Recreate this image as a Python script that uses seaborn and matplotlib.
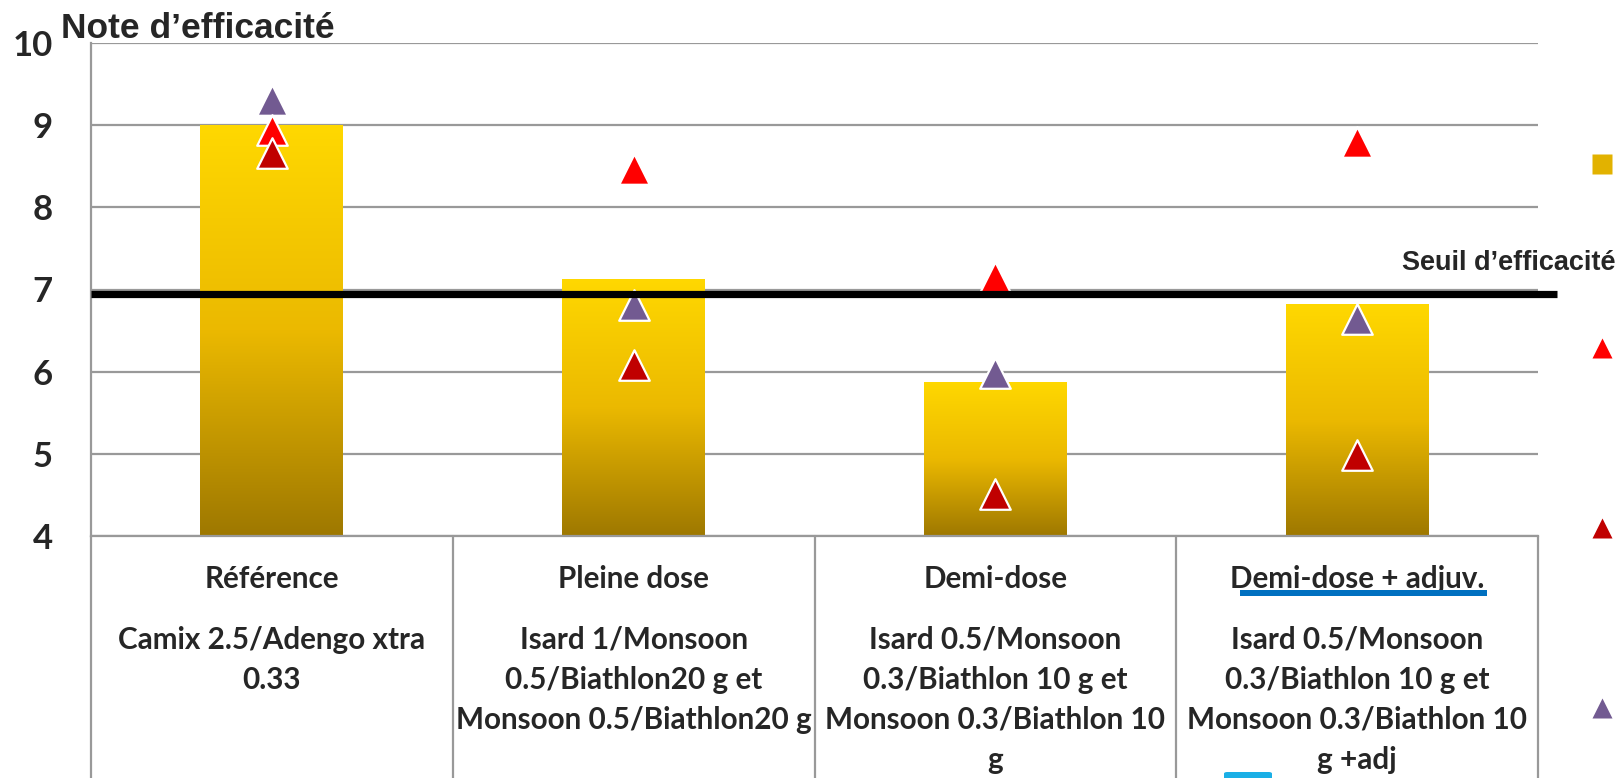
import numpy as np
import pandas as pd
import matplotlib
matplotlib.use("Agg")
import matplotlib.pyplot as plt
import matplotlib.transforms as mtransforms
from matplotlib.colors import LinearSegmentedColormap
from matplotlib.lines import Line2D
from matplotlib.patches import Rectangle, FancyBboxPatch
import seaborn as sns

# ─────────────────────────────────────────────
#  DATA
# ─────────────────────────────────────────────
categories = ["Référence", "Pleine dose", "Demi-dose", "Demi-dose + adjuv."]
products = [
    "Camix 2.5/Adengo xtra\n0.33",
    "Isard 1/Monsoon\n0.5/Biathlon20 g et\nMonsoon 0.5/Biathlon20 g",
    "Isard 0.5/Monsoon\n0.3/Biathlon 10 g et\nMonsoon 0.3/Biathlon 10\ng",
    "Isard 0.5/Monsoon\n0.3/Biathlon 10 g et\nMonsoon 0.3/Biathlon 10\ng +adj",
]
moyenne = [9.0, 7.13, 5.88, 6.82]
essai_rouge = [8.94, 8.47, 7.15, 8.80]
essai_bordeaux = [8.66, 6.08, 4.51, 4.99]
essai_violet = [9.31, 6.81, 5.98, 6.64]
seuil = 6.95
yticks = [4, 5, 6, 7, 8, 9, 10]

# colours
ROUGE = "#FF0000"
BORDEAUX = "#C00000"
VIOLET = "#725A91"
GRID = "#999999"

W, H = 1623, 778
CAT_FONT = "Lato"
TITLE_FONT = "Liberation Sans"
CAT_SIZE = 21.3

sns.set_style("white")
plt.rcParams["font.family"] = ["Lato", "DejaVu Sans"]

fig = plt.figure(figsize=(W / 100, H / 100), dpi=100)
ax = fig.add_axes([91 / W, (H - 536) / H, (1538 - 91) / W, (536 - 43) / H])

x = np.arange(len(categories))

# ── Bars with vertical gold gradient ─────────
df = pd.DataFrame({"cat": categories, "val": moyenne})
sns.barplot(data=df, x="cat", y="val", width=0.395, color="#E8B800",
            edgecolor="none", ax=ax, zorder=2)

gold = LinearSegmentedColormap.from_list(
    "gold", [(0, "#9E7800"), (0.5, "#EBB900"), (1, "#FFD800")])
grad = np.linspace(0, 1, 256).reshape(-1, 1)
for bar in ax.patches:
    x0, w, top = bar.get_x(), bar.get_width(), bar.get_height()
    img = ax.imshow(grad, cmap=gold, origin="lower", aspect="auto",
                    extent=(x0, x0 + w, yticks[0], top), zorder=2)
    img.set_clip_path(bar)
    bar.set_facecolor("none")

# ── Triangles ────────────────────────────────
for vals, col, z in [(essai_violet, VIOLET, 3), (essai_rouge, ROUGE, 4),
                     (essai_bordeaux, BORDEAUX, 5)]:
    sns.scatterplot(x=x, y=vals, marker="^", s=22 ** 2, color=col,
                    edgecolor="white", linewidth=1.6, ax=ax, zorder=z,
                    legend=False)

# ── Threshold line ───────────────────────────
ax.plot([-0.5, 3.553], [seuil, seuil], color="black", lw=5.2,
        solid_capstyle="butt", clip_on=False, zorder=6)
fig.text(1615 / W, 1 - 270 / H, "Seuil d\u2019efficacité", ha="right",
         va="baseline", fontsize=19.5, fontweight="bold", family=TITLE_FONT)

# ── Axes styling ─────────────────────────────
ax.set_xlim(-0.5, 3.5)
ax.set_ylim(yticks[0], yticks[-1])
ax.set_yticks(yticks)
ax.set_yticklabels([str(t) for t in yticks], fontsize=25, fontweight="bold")
ax.set_xticks([])
ax.set_xlabel("")
ax.set_ylabel("")
ax.yaxis.grid(True, color=GRID, linewidth=1.6, zorder=0)
ax.set_axisbelow(True)
ax.tick_params(axis="y", length=9.4, width=1.6, color=GRID, pad=18, direction="out")
for side in ["top", "right"]:
    ax.spines[side].set_visible(False)
for side in ["left", "bottom"]:
    ax.spines[side].set_color(GRID)
    ax.spines[side].set_linewidth(1.6)

fig.text(61 / W, 1 - 38 / H, "Note d\u2019efficacité", ha="left", va="baseline",
         fontsize=25.5, fontweight="bold", family=TITLE_FONT)

# ── Category "table" under the axis ──────────
trans = mtransforms.blended_transform_factory(ax.transData, ax.transAxes)
for b in np.arange(-0.5, len(categories), 1.0):
    ax.plot([b, b], [0, -0.5], color=GRID, lw=1.6, transform=trans,
            clip_on=False, zorder=1)

for i, (cat, prod) in enumerate(zip(categories, products)):
    ax.annotate(cat, xy=(i, 0), xycoords=trans, xytext=(0, -43 * 0.72),
                textcoords="offset points", ha="center", va="center",
                fontsize=CAT_SIZE, fontweight="bold", family=CAT_FONT)
    for k, line in enumerate(prod.split("\n")):
        off = 104 + 40 * k
        ax.annotate(line, xy=(i, 0), xycoords=trans, xytext=(0, -off * 0.72),
                    textcoords="offset points", ha="center", va="center",
                    fontsize=CAT_SIZE, fontweight="bold", family=CAT_FONT)

# blue underline + small fragment of a shape at the bottom
fig.add_artist(Rectangle((1240 / W, 1 - 596 / H), 247 / W, 6 / H,
                         transform=fig.transFigure, color="#0070C0", lw=0))
fig.add_artist(FancyBboxPatch((1224 / W, 1 - 784 / H), 48 / W, 12 / H,
                              boxstyle="round,pad=0,rounding_size=0.002",
                              transform=fig.transFigure, color="#1AAFE6", lw=0))

# ── Legend keys (labels cut off in the original) ──
leg_keys = [("s", "#E2B200", 15), ("^", ROUGE, 14), ("^", BORDEAUX, 14), ("^", VIOLET, 14)]
for (mk, col, ms), ypx in zip(leg_keys, [164, 348, 528, 708]):
    fig.add_artist(Line2D([1602 / W], [1 - ypx / H], marker=mk, markersize=ms,
                          color=col, markeredgecolor="none", linestyle="none",
                          transform=fig.transFigure))

fig.savefig("out.png", dpi=100)
plt.close(fig)
